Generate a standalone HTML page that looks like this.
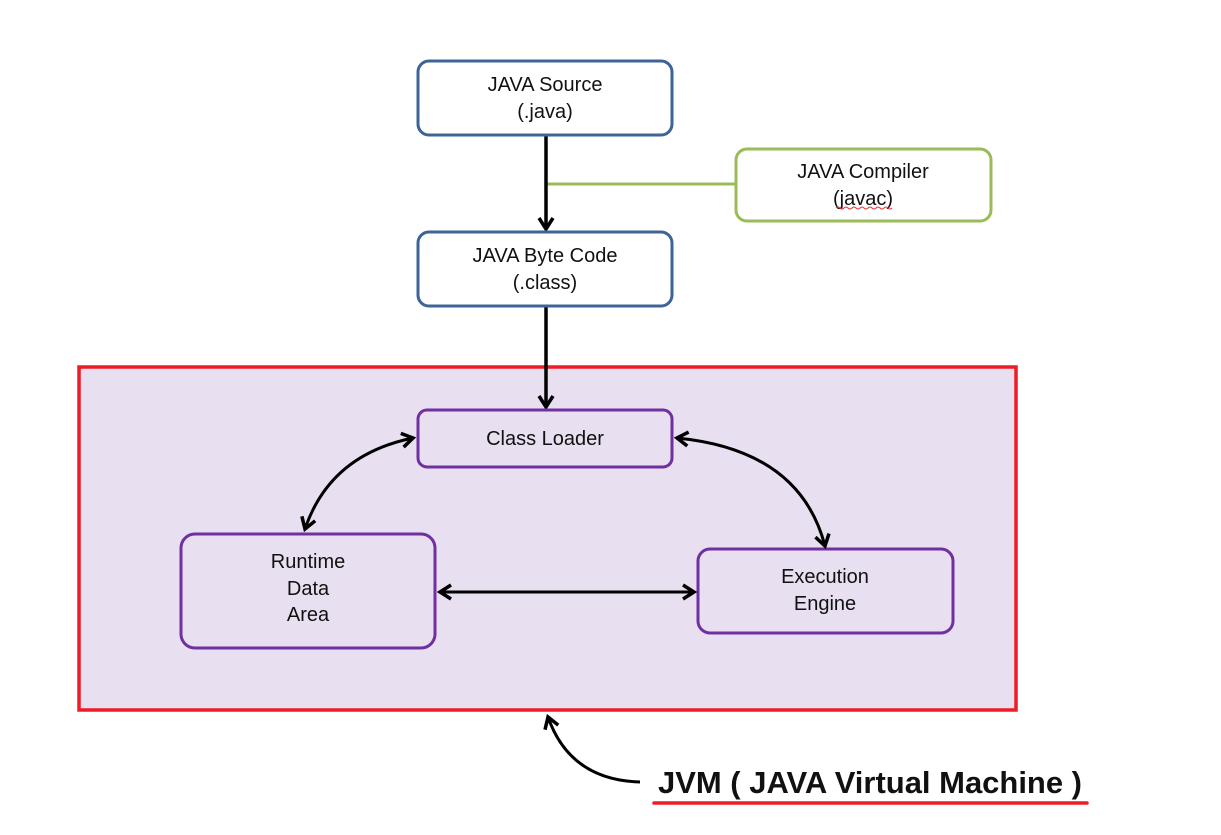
<!DOCTYPE html>
<html><head><meta charset="utf-8"><style>
html,body{margin:0;padding:0;background:#fff;}
svg{display:block;}
text{font-family:"Liberation Sans",sans-serif;fill:#111;}
</style></head><body>
<svg width="1221" height="835" viewBox="0 0 1221 835" xmlns="http://www.w3.org/2000/svg">
<defs>
<marker id="a" markerWidth="18" markerHeight="18" refX="13" refY="9" orient="auto" markerUnits="userSpaceOnUse">
<path d="M2,2 L13,9 L2,16" fill="none" stroke="#000" stroke-width="3.5"/>
</marker>
<marker id="s" markerWidth="18" markerHeight="18" refX="5" refY="9" orient="auto" markerUnits="userSpaceOnUse">
<path d="M16,2 L5,9 L16,16" fill="none" stroke="#000" stroke-width="3.5"/>
</marker>
</defs>
<rect x="79" y="367" width="937" height="343" fill="#e8dff0" stroke="#ee1c25" stroke-width="3.5"/>
<line x1="547" y1="184" x2="736" y2="184" stroke="#9bbb59" stroke-width="3"/>
<line x1="546" y1="135" x2="546" y2="229" stroke="#000" stroke-width="3.5" marker-end="url(#a)"/>
<line x1="546" y1="306" x2="546" y2="407" stroke="#000" stroke-width="3.5" marker-end="url(#a)"/>
<rect x="418" y="61" width="254" height="74" rx="11" fill="#fff" stroke="#3d6497" stroke-width="3"/>
<rect x="736" y="149" width="255" height="72" rx="11" fill="#fff" stroke="#9bbb59" stroke-width="3"/>
<rect x="418" y="232" width="254" height="74" rx="11" fill="#fff" stroke="#3d6497" stroke-width="3"/>
<rect x="418" y="410" width="254" height="57" rx="9" fill="#e8dff0" stroke="#7030a0" stroke-width="3"/>
<rect x="181" y="534" width="254" height="114" rx="14" fill="#e8dff0" stroke="#7030a0" stroke-width="3"/>
<rect x="698" y="549" width="255" height="84" rx="12" fill="#e8dff0" stroke="#7030a0" stroke-width="3"/>
<path d="M305,529 Q330,455 413,438" fill="none" stroke="#000" stroke-width="3" marker-start="url(#s)" marker-end="url(#a)"/>
<path d="M677,438 Q800,450 825,546" fill="none" stroke="#000" stroke-width="3" marker-start="url(#s)" marker-end="url(#a)"/>
<line x1="440" y1="592" x2="694" y2="592" stroke="#000" stroke-width="3" marker-start="url(#s)" marker-end="url(#a)"/>
<path d="M640,782 Q570,780 548,717" fill="none" stroke="#000" stroke-width="3" marker-end="url(#a)"/>
<g font-size="20" text-anchor="middle">
<text x="545" y="91">JAVA Source</text><text x="545" y="118">(.java)</text>
<text x="863" y="178">JAVA Compiler</text><text x="863" y="205">(javac)</text>
<text x="545" y="262">JAVA Byte Code</text><text x="545" y="289">(.class)</text>
<text x="545" y="445">Class Loader</text>
<text x="308" y="568">Runtime</text><text x="308" y="595">Data</text><text x="308" y="621">Area</text>
<text x="825" y="583">Execution</text><text x="825" y="610">Engine</text>
</g>
<path d="M836,208 q2,-2 4,0 t4,0 t4,0 t4,0 t4,0 t4,0 t4,0 t4,0 t4,0 t4,0 t4,0 t4,0 t4,0 t4,0" fill="none" stroke="#e33" stroke-width="1"/>
<text x="658" y="793" font-size="31" font-weight="bold" textLength="424" lengthAdjust="spacingAndGlyphs">JVM ( JAVA Virtual Machine )</text>
<line x1="654" y1="803" x2="1087" y2="803" stroke="#ee1c25" stroke-width="3.5" stroke-linecap="round"/>
</svg>
</body></html>
